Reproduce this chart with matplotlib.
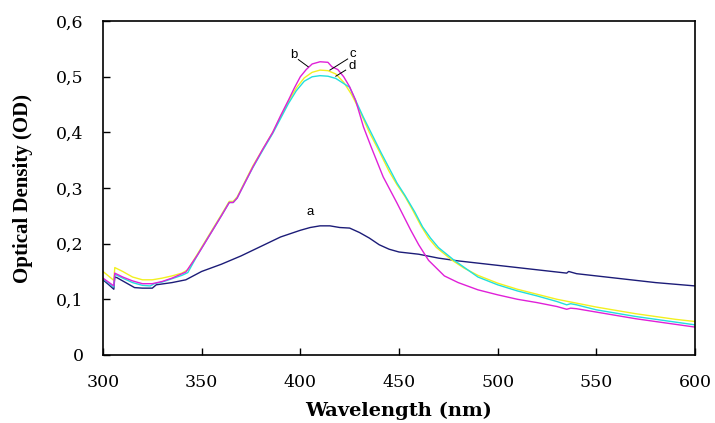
import matplotlib.pyplot as plt
from matplotlib.ticker import FuncFormatter

# curve a (navy)
wl_a = [300, 303, 305.5, 306, 307, 310, 316, 320, 325, 327, 335, 342, 350, 360, 370, 380,
        390, 400, 405, 410, 415, 420, 425, 430, 435, 440, 445, 450, 460, 470, 480, 490,
        500, 510, 520, 530, 535, 536, 540, 550, 560, 570, 580, 590, 600]
od_a = [0.135, 0.126, 0.118, 0.140, 0.139, 0.133, 0.121, 0.120, 0.120, 0.126, 0.130, 0.135,
        0.150, 0.163, 0.178, 0.195, 0.212, 0.224, 0.229, 0.232, 0.232, 0.229, 0.228, 0.220,
        0.210, 0.198, 0.190, 0.185, 0.181, 0.174, 0.169, 0.165, 0.161, 0.157, 0.153, 0.149,
        0.147, 0.150, 0.146, 0.142, 0.138, 0.134, 0.130, 0.127, 0.124]

# curve b (magenta)
wl_b = [300, 305.5, 306, 310, 315, 320, 325, 330, 335, 342, 348, 354, 360, 364, 366, 368,
        372, 376, 381, 386, 390, 394, 397, 400, 403, 406, 410, 414, 416, 419, 422, 425, 428,
        432, 436, 442, 449, 456, 460, 465, 473, 480, 490, 500, 510, 520, 530, 535, 537,
        540, 550, 560, 570, 580, 590, 600]
od_b = [0.138, 0.124, 0.147, 0.140, 0.133, 0.128, 0.128, 0.132, 0.138, 0.149, 0.180, 0.215,
        0.250, 0.274, 0.274, 0.282, 0.310, 0.338, 0.370, 0.400, 0.430, 0.458, 0.480, 0.500,
        0.513, 0.523, 0.527, 0.526, 0.518, 0.513, 0.500, 0.482, 0.458, 0.410, 0.373, 0.320,
        0.273, 0.224, 0.198, 0.170, 0.142, 0.130, 0.117, 0.108, 0.100, 0.094, 0.087,
        0.082, 0.084, 0.083, 0.077, 0.071, 0.065, 0.060, 0.055, 0.050]

# curve c (yellow)
wl_c = [300, 305.5, 306, 310, 315, 320, 325, 330, 335, 340, 343, 348, 354, 360, 364, 366,
        368, 372, 376, 381, 386, 390, 394, 398, 402, 406, 410, 414, 418, 422, 426, 430, 435,
        440, 445, 449, 453, 457, 461, 465, 469, 477, 483, 490, 500, 510, 520, 530, 540, 550,
        560, 570, 580, 590, 600]
od_c = [0.150, 0.134, 0.157, 0.150, 0.140, 0.135, 0.135, 0.138, 0.142, 0.147, 0.153, 0.182,
        0.217, 0.252, 0.276, 0.276, 0.284, 0.312, 0.340, 0.370, 0.400, 0.428, 0.456, 0.480,
        0.498, 0.508, 0.512, 0.511, 0.505, 0.490, 0.468, 0.440, 0.400, 0.366, 0.330, 0.306,
        0.285, 0.260, 0.233, 0.210, 0.193, 0.170, 0.156, 0.143, 0.129, 0.118, 0.109, 0.100,
        0.093, 0.086, 0.080, 0.074, 0.069, 0.064, 0.060]

# curve d (cyan)
wl_d = [300, 305.5, 306, 310, 315, 320, 324, 326, 330, 335, 340, 343, 348, 354, 360, 364,
        366, 368, 372, 376, 381, 386, 390, 394, 398, 402, 406, 410, 414, 418, 425, 432, 441,
        449, 453, 458, 462, 466, 470, 478, 484, 490, 500, 510, 520, 530, 535, 537, 540,
        550, 560, 570, 580, 590, 600]
od_d = [0.137, 0.122, 0.145, 0.138, 0.130, 0.125, 0.124, 0.128, 0.131, 0.137, 0.143, 0.148,
        0.180, 0.215, 0.250, 0.274, 0.274, 0.282, 0.310, 0.337, 0.368, 0.398, 0.425, 0.452,
        0.475, 0.492, 0.500, 0.502, 0.501, 0.497, 0.481, 0.427, 0.363, 0.309, 0.287, 0.257,
        0.230, 0.210, 0.193, 0.170, 0.155, 0.140, 0.126, 0.115, 0.106, 0.096, 0.090,
        0.092, 0.090, 0.081, 0.075, 0.069, 0.064, 0.059, 0.054]

fig = plt.figure(figsize=(7.15, 4.23), dpi=100)
ax = fig.add_axes([0.144, 0.161, 0.828, 0.789])

ax.plot(wl_a, od_a, color='#1c1c78', lw=1.0)
ax.plot(wl_c, od_c, color='#f2f020', lw=1.0)
ax.plot(wl_d, od_d, color='#22dede', lw=1.0)
ax.plot(wl_b, od_b, color='#e020d8', lw=1.0)

# curve labels
lab = dict(fontsize=9.5, family='Liberation Sans', color='black')
ax.text(396.5, 0.539, 'b', ha='center', va='center', **lab)
ax.plot([399, 404], [0.531, 0.518], color='black', lw=0.7)
ax.text(426.5, 0.541, 'c', ha='center', va='center', **lab)
ax.plot([424, 415], [0.532, 0.512], color='black', lw=0.7)
ax.text(426.5, 0.519, 'd', ha='center', va='center', **lab)
ax.plot([423, 418], [0.512, 0.501], color='black', lw=0.7)
ax.text(405, 0.257, 'a', ha='center', va='center', **lab)

ax.set_xlim(300, 600)
ax.set_ylim(0, 0.6)
ax.set_xticks([300, 350, 400, 450, 500, 550, 600])
ax.set_yticks([0, 0.1, 0.2, 0.3, 0.4, 0.5, 0.6])
ax.yaxis.set_major_formatter(FuncFormatter(lambda v, p: '0' if v == 0 else f'{v:.1f}'.replace('.', ',')))
ax.tick_params(direction='in', length=5, width=1.0, pad=14, labelsize=12.5)
for t in ax.get_xticklabels() + ax.get_yticklabels():
    t.set_family('DejaVu Serif')
for s in ax.spines.values():
    s.set_linewidth(1.2)

ax.set_xlabel('Wavelength (nm)', family='DejaVu Serif', fontweight='bold', fontsize=14)
ax.set_ylabel('Optical Density (OD)', family='Liberation Serif', fontweight='bold', fontsize=15)
ax.xaxis.set_label_coords(0.5, -0.14)
ax.yaxis.set_label_coords(-0.118, 0.5)

fig.savefig('out.png', dpi=100)
